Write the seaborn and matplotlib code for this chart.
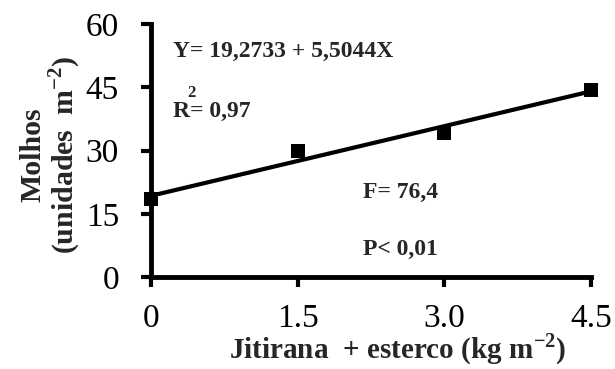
import numpy as np
import matplotlib
matplotlib.use("Agg")
import matplotlib.pyplot as plt
import seaborn as sns
import pandas as pd

# dados
doses = [0, 1.5, 3.0, 4.5]
molhos = [18.5, 30.0, 34.1, 44.3]
intercepto = 19.2733
inclinacao = 5.5044
xticks = [0, 1.5, 3.0, 4.5]
xtick_labels = ["0", "1.5", "3.0", "4.5"]
yticks = [0, 15, 30, 45, 60]

sns.set_theme(style="ticks")
plt.rcParams['font.family'] = ['Liberation Serif', 'DejaVu Serif']
plt.rcParams['mathtext.fontset'] = 'custom'
plt.rcParams['mathtext.rm'] = 'Liberation Serif'
plt.rcParams['mathtext.bf'] = 'Liberation Serif:bold'
plt.rcParams['axes.linewidth'] = 3.5
plt.rcParams['axes.edgecolor'] = 'black'
plt.rcParams['xtick.major.width'] = 3
plt.rcParams['ytick.major.width'] = 3
plt.rcParams['xtick.color'] = 'black'
plt.rcParams['ytick.color'] = 'black'

df = pd.DataFrame({'dose': doses, 'molhos': molhos})
x_fit = np.array([min(doses), max(doses)])
fit = pd.DataFrame({'dose': x_fit, 'molhos': intercepto + inclinacao * x_fit})

fig = plt.figure(figsize=(6.15, 3.69), dpi=100)
ax = fig.add_axes([0.2455, 0.249, 0.7155, 0.686])

sns.lineplot(data=fit, x='dose', y='molhos', color='black', linewidth=3, ax=ax)
sns.scatterplot(data=df, x='dose', y='molhos', marker='s', s=95, color='black',
                linewidth=0, ax=ax, zorder=3, clip_on=False)

ax.set_xlim(0, 4.5)
ax.set_ylim(0, 60)
ax.set_xticks(xticks)
ax.set_xticklabels(xtick_labels)
ax.set_yticks(yticks)
ax.tick_params(axis='both', labelsize=24, width=3, length=7, color='black')
ax.tick_params(axis='x', pad=12)
ax.tick_params(axis='y', pad=16)
sns.despine(ax=ax)
for s in ['left', 'bottom']:
    ax.spines[s].set_linewidth(3.5)
    ax.spines[s].set_color('black')

ax.set_xlabel(r"Jitirana  + esterco (kg m$^{\mathbf{-2}}$)", fontsize=21,
              fontweight='bold')
ax.xaxis.set_label_coords(0.56, -0.215)
ax.set_ylabel("Molhos\n" + r"(unidades  m$^{\mathbf{-2}}$)", fontsize=21.5,
              fontweight='bold', linespacing=1.0)
ax.yaxis.set_label_coords(-0.154, 0.485)

ax.text(0.225, 52.2, "Y= 19,2733 + 5,5044X", fontsize=17, fontweight='bold')
ax.text(0.225, 37.9, "R= 0,97", fontsize=17, fontweight='bold')
ax.text(0.368, 42.7, "2", fontsize=12, fontweight='bold')
ax.text(2.17, 18.7, "F= 76,4", fontsize=17, fontweight='bold')
ax.text(2.17, 5.2, "P< 0,01", fontsize=17, fontweight='bold')

fig.savefig("out.png", dpi=100)
